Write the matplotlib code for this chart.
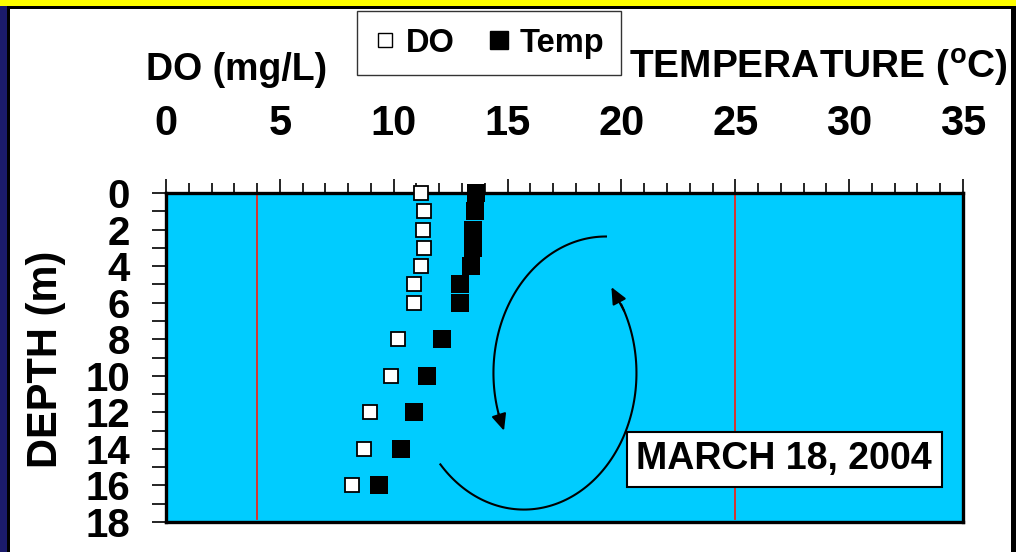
import numpy as np
import matplotlib.pyplot as plt
from matplotlib.patches import Rectangle
from matplotlib.lines import Line2D
from matplotlib.ticker import MultipleLocator

plt.rcParams['font.family'] = ['Liberation Sans', 'DejaVu Sans']
plt.rcParams['font.weight'] = 'bold'
plt.rcParams['mathtext.fontset'] = 'custom'
plt.rcParams['mathtext.bf'] = 'Liberation Sans:bold'
plt.rcParams['mathtext.rm'] = 'Liberation Sans:bold'

# profile data, March 18 2004
depth = [0, 1, 2, 3, 4, 5, 6, 8, 10, 12, 14, 16]
do_mgl = [11.2, 11.35, 11.3, 11.35, 11.2, 10.9, 10.9, 10.2, 9.9, 8.95, 8.7, 8.15]
temp_c = [13.6, 13.55, 13.5, 13.5, 13.4, 12.9, 12.9, 12.1, 11.45, 10.9, 10.3, 9.35]

x_ticks = [0, 5, 10, 15, 20, 25, 30, 35]
y_ticks = [0, 2, 4, 6, 8, 10, 12, 14, 16, 18]
ref_lines = [4, 25]  # DO threshold / temperature reference

fig = plt.figure(figsize=(10.16, 5.52), dpi=100)
fig.patch.set_facecolor('white')
ax = fig.add_axes([166 / 1016, 30 / 552, 797 / 1016, 329 / 552])
ax.set_facecolor('#00CCFF')

ax.set_xlim(0, 35)
ax.set_ylim(18, 0)

for xv in ref_lines:
    ax.axvline(xv, ymin=0.01, ymax=1, color='#E8261C', lw=1.3, zorder=1)

ax.plot(do_mgl, depth, 's', ms=9.5, mfc='white', mec='black', mew=1.3,
        linestyle='none', zorder=4, clip_on=False)
ax.plot(temp_c, depth, 's', ms=13.5, mfc='black', mec='black', mew=0,
        linestyle='none', zorder=3, clip_on=False)

# circulation arrows (two elliptical arcs)
rx, ry = 4.94, 7.47
for cx, t0, t1 in [(19.32, 270, 155), (15.72, 138, -39)]:
    t = np.radians(np.linspace(t0, t1, 120))
    xs = cx + rx * np.cos(t)
    ys = 9.85 + ry * np.sin(t)
    ax.plot(xs[:-6], ys[:-6], color='black', lw=1.5, zorder=5)
    ax.annotate('', xy=(xs[-1], ys[-1]), xytext=(xs[-9], ys[-9]),
                arrowprops=dict(arrowstyle='-|>,head_length=1.0,head_width=0.45',
                                color='black', lw=1.5, shrinkA=0, shrinkB=0),
                zorder=5)

ax.text(27.15, 14.58, 'MARCH 18, 2004', fontsize=27, fontweight='bold',
        ha='center', va='center', zorder=6,
        bbox=dict(boxstyle='square,pad=0.26', fc='white', ec='black', lw=1.5))

ax.xaxis.tick_top()
ax.set_xticks(x_ticks)
ax.xaxis.set_minor_locator(MultipleLocator(1))
ax.set_yticks(y_ticks)
ax.yaxis.set_minor_locator(MultipleLocator(1))
ax.tick_params(axis='x', which='major', direction='out', length=10, width=1.2,
               labelsize=30, pad=25)
ax.tick_params(axis='x', which='minor', direction='out', length=7, width=1.2)
ax.tick_params(axis='y', which='both', direction='out', length=10, width=1.2,
               labelsize=29, pad=16)
for lab in ax.get_xticklabels() + ax.get_yticklabels():
    lab.set_fontweight('bold')
for sp in ax.spines.values():
    sp.set_linewidth(2.4)

fig.text(237 / 1016, 1 - 70 / 552, 'DO (mg/L)', fontsize=27, fontweight='bold',
         ha='center', va='center')
fig.text(1008 / 1016, 1 - 68 / 552, r'TEMPERATURE ($^{\mathbf{o}}$C)', fontsize=28,
         fontweight='bold', ha='right', va='center')
fig.text(46 / 1016, 1 - 359 / 552, 'DEPTH (m)', fontsize=30, fontweight='bold',
         rotation=90, ha='center', va='center')

handles = [Line2D([], [], marker='s', ms=9.5, mfc='white', mec='black', mew=1, ls='none'),
           Line2D([], [], marker='s', ms=12.5, mfc='black', mec='black', ls='none')]
fig.legend(handles, ['DO', 'Temp'], loc='lower left',
           bbox_to_anchor=(357 / 1016, 1 - 75 / 552), borderaxespad=0, ncol=2,
           prop={'weight': 'bold', 'size': 23.5}, frameon=True, fancybox=False,
           edgecolor='#333333', framealpha=1, handlelength=0.7, handletextpad=0.3,
           columnspacing=1.0, borderpad=0.5)

# slide frame decoration
W, H = 1016, 552
deco = [((0, 0), 7 / W, 1, '#1B1B6B'),
        ((7 / W, 0), 3 / W, 1 - 6 / H, 'black'),
        ((0, 1 - 6 / H), 1, 6 / H, '#FFFF00'),
        ((7 / W, 1 - 9 / H), 1, 3 / H, 'black'),
        ((1011 / W, 0), 5 / W, 1 - 6 / H, 'black')]
for xy, w, h, c in deco:
    fig.patches.append(Rectangle(xy, w, h, transform=fig.transFigure,
                                 facecolor=c, edgecolor='none', zorder=10))

fig.savefig('out.png', dpi=100)
